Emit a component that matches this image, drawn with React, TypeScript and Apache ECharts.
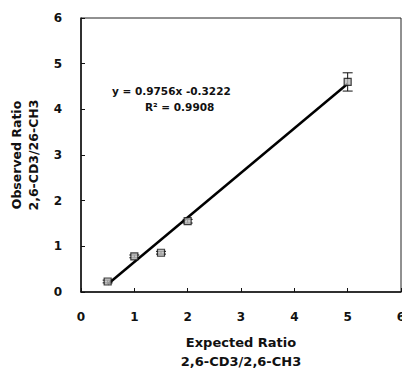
import React, { useEffect, useRef } from "react";
import * as echarts from "echarts";

const expected = [0.5, 1, 1.5, 2, 5];
const observed = [0.23, 0.78, 0.86, 1.55, 4.6];
const errors = [0.03, 0.03, 0.03, 0.04, 0.2];
const trendX = [0.5, 5];
const trendY = [0.17, 4.56];
const xTicks = [0, 1, 2, 3, 4, 5, 6];
const yTicks = [0, 1, 2, 3, 4, 5, 6];
const equationLine1 = "y = 0.9756x -0.3222";
const equationLine2 = "R² = 0.9908";

const FONT = "'DejaVu Sans', Arial, sans-serif";

export default function App() {
  const ref = useRef<HTMLDivElement>(null);
  useEffect(() => {
    if (!ref.current) return;
    const chart = echarts.init(ref.current, undefined, { renderer: "svg" });
    const points = expected.map((x, i) => [x, observed[i]]);
    const errData = expected.map((x, i) => [x, observed[i] - errors[i], observed[i] + errors[i]]);
    chart.setOption({
      animation: false,
      backgroundColor: "#fff",
      grid: {
        left: 81, right: 1, top: 18, bottom: 79,
        outerBoundsMode: "none",
        containLabel: false,
        show: true, borderColor: "#222", borderWidth: 1,
      },
      xAxis: {
        type: "value",
        min: xTicks[0],
        max: xTicks[xTicks.length - 1],
        interval: 1,
        name: "Expected Ratio\n2,6-CD3/2,6-CH3",
        nameLocation: "middle",
        nameGap: 41,
        nameTextStyle: { fontFamily: FONT, fontWeight: "bold", fontSize: 13, color: "#111", lineHeight: 19, verticalAlign: "top" },
        axisLine: { lineStyle: { color: "#111", width: 1.5 } },
        axisTick: { inside: true, length: 4, lineStyle: { color: "#111" } },
        axisLabel: { fontFamily: FONT, fontWeight: "bold", fontSize: 12, color: "#111", margin: 19 },
        splitLine: { show: false },
      },
      yAxis: {
        type: "value",
        min: yTicks[0],
        max: yTicks[yTicks.length - 1],
        interval: 1,
        name: "Observed Ratio\n2,6-CD3/26-CH3",
        nameLocation: "middle",
        nameGap: 39,
        nameRotate: 90,
        nameTextStyle: { fontFamily: FONT, fontWeight: "bold", fontSize: 12.5, color: "#111", lineHeight: 17 },
        axisLine: { lineStyle: { color: "#111", width: 1.5 } },
        axisTick: { inside: true, length: 4, lineStyle: { color: "#111" } },
        axisLabel: { fontFamily: FONT, fontWeight: "bold", fontSize: 12, color: "#111", margin: 19 },
        splitLine: { show: false },
      },
      graphic: [
        {
          type: "text",
          left: 112,
          top: 85,
          style: { text: equationLine1, font: `bold 10.5px ${FONT}`, fill: "#111" },
        },
        {
          type: "text",
          left: 145,
          top: 101,
          style: { text: equationLine2, font: `bold 10.5px ${FONT}`, fill: "#111" },
        },
      ],
      series: [
        {
          type: "line",
          data: trendX.map((x, i) => [x, trendY[i]]),
          symbol: "none",
          lineStyle: { color: "#000", width: 2.5 },
          z: 2,
        },
        {
          type: "custom",
          data: errData,
          renderItem: (params: any, api: any) => {
            const x = api.value(0);
            const lo = api.coord([x, api.value(1)]);
            const hi = api.coord([x, api.value(2)]);
            const w = 5;
            return {
              type: "group",
              children: [
                { type: "line", shape: { x1: lo[0], y1: lo[1], x2: hi[0], y2: hi[1] }, style: { stroke: "#111", lineWidth: 1 } },
                { type: "line", shape: { x1: lo[0] - w, y1: lo[1], x2: lo[0] + w, y2: lo[1] }, style: { stroke: "#111", lineWidth: 1 } },
                { type: "line", shape: { x1: hi[0] - w, y1: hi[1], x2: hi[0] + w, y2: hi[1] }, style: { stroke: "#111", lineWidth: 1 } },
              ],
            };
          },
          z: 3,
        },
        {
          type: "scatter",
          data: points,
          symbol: "rect",
          symbolSize: 7,
          itemStyle: { color: "#bbb", borderColor: "#111", borderWidth: 1.2 },
          z: 4,
        },
      ],
    });
    return () => chart.dispose();
  }, []);
  return <div ref={ref} style={{ width: 402, height: 371, position: "absolute", left: 0, top: 0 }} />;
}
